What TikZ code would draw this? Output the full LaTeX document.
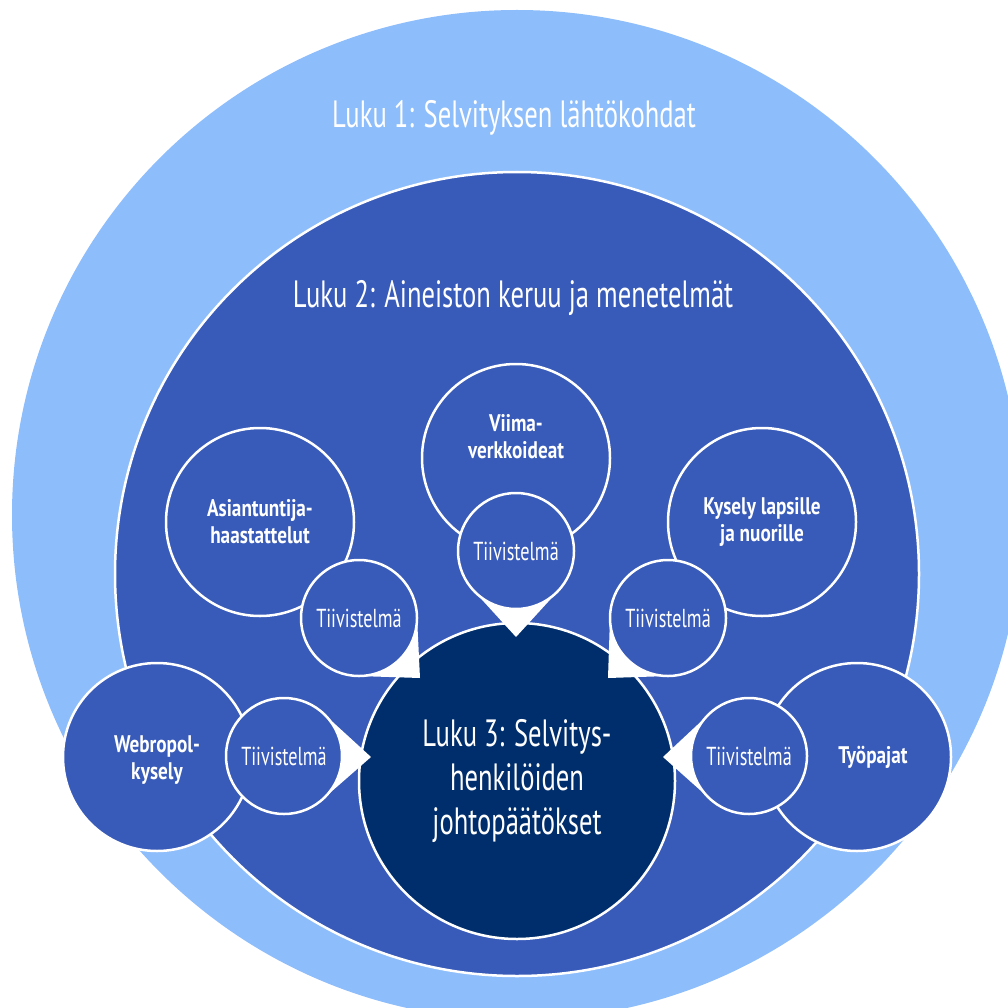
\documentclass[tikz,border=0pt]{standalone}
\usepackage{fontspec}
\setmainfont{PT Sans}[FakeStretch=0.7, BoldFeatures={FakeStretch=0.8}]
\usepackage{tikz}
\usetikzlibrary{calc}
\definecolor{lightring}{RGB}{142,189,252}
\definecolor{midblue}{RGB}{56,90,185}
\definecolor{darknavy}{RGB}{0,46,108}
\pgfdeclarelayer{front}
\pgfsetlayers{main,front}
\tikzset{
  chapter/.style={text=white, font=\fontsize{38}{44}\selectfont},
  ring/.style={circle, inner sep=0pt, outer sep=0pt},
  topic/.style={ring, fill=midblue, draw=white, line width=2.5pt, minimum size=188pt},
  topictext/.style={text=white, align=center, font=\bfseries\fontsize{24}{27}\selectfont},
  summary/.style={ring, fill=midblue, draw=white, line width=2.5pt, minimum size=116pt,
    text=white, font=\fontsize{26}{28}\selectfont},
  pointer/.style={fill=white}
}

\begin{document}
\begin{tikzpicture}[x=1pt, y=-1pt]
				% Paths, nodes and rings:
				\useasboundingbox (0, 0) rectangle (1008, 1008);
				\clip (0, 0) rectangle (1008, 1008);
				\node[ring, fill=lightring, minimum size=1010pt] (L1) at (517, 515){};
				\node[ring, fill=midblue, draw=white, line width=2.5pt, minimum size=804pt] (L2) at (517, 574){};
				\node[chapter] (L1text) at (514, 118){Luku 1: Selvityksen lähtökohdat};
				\node[chapter] (L2text) at (513, 298){Luku 2: Aineiston keruu ja menetelmät};
				\node[ring, fill=darknavy, draw=white, line width=2.5pt, minimum size=316pt, text=white, align=center, chapter] (L3) at (517, 781){Luku 3: Selvitys-\\henkilöiden\\johtopäätökset};
				% topics
				\node[topic] (asi) at (260, 522){};
				\node[topic] (vii) at (516, 458){};
				\node[topic] (kys) at (762, 522){};
				\node[topic] (web) at (157, 757){};
				\node[topic] (tyo) at (857, 757){};
				\node[topictext] (asitext) at (asi){Asiantuntija-\\haastattelut};
				\node[topictext] (viitext) at ([yshift=21pt]vii){Viima-\\verkkoideat};
				\node[topictext] (kystext) at (kys){Kysely lapsille\\ja nuorille};
				\node[topictext] (webtext) at ([yshift=-3pt]web){Webropol-\\kysely};
				\node[topictext] (tyotext) at ([xshift=16pt]tyo){Työpajat};
				% summaries
				\begin{pgfonlayer}{front}
				\node[summary] (s1) at (359, 618){Tiivistelmä};
				\node[summary] (s2) at (516, 551){Tiivistelmä};
				\node[summary] (s3) at (668, 618){Tiivistelmä};
				\node[summary] (s4) at (284, 756){Tiivistelmä};
				\node[summary] (s5) at (749, 756){Tiivistelmä};
				\end{pgfonlayer}
				\coordinate (t1) at (420, 678);
				\coordinate (t2) at (516, 637);
				\coordinate (t3) at (608, 678);
				\coordinate (t4) at (371, 757);
				\coordinate (t5) at (663, 757);
				\foreach \s/\t in {s1/t1, s2/t2, s3/t3, s4/t4, s5/t5}
					\fill[pointer] (tangent cs:node=\s, point={(\t)}, solution=1) -- (\t) -- (tangent cs:node=\s, point={(\t)}, solution=2) -- cycle;
			\end{tikzpicture}
\end{document}
